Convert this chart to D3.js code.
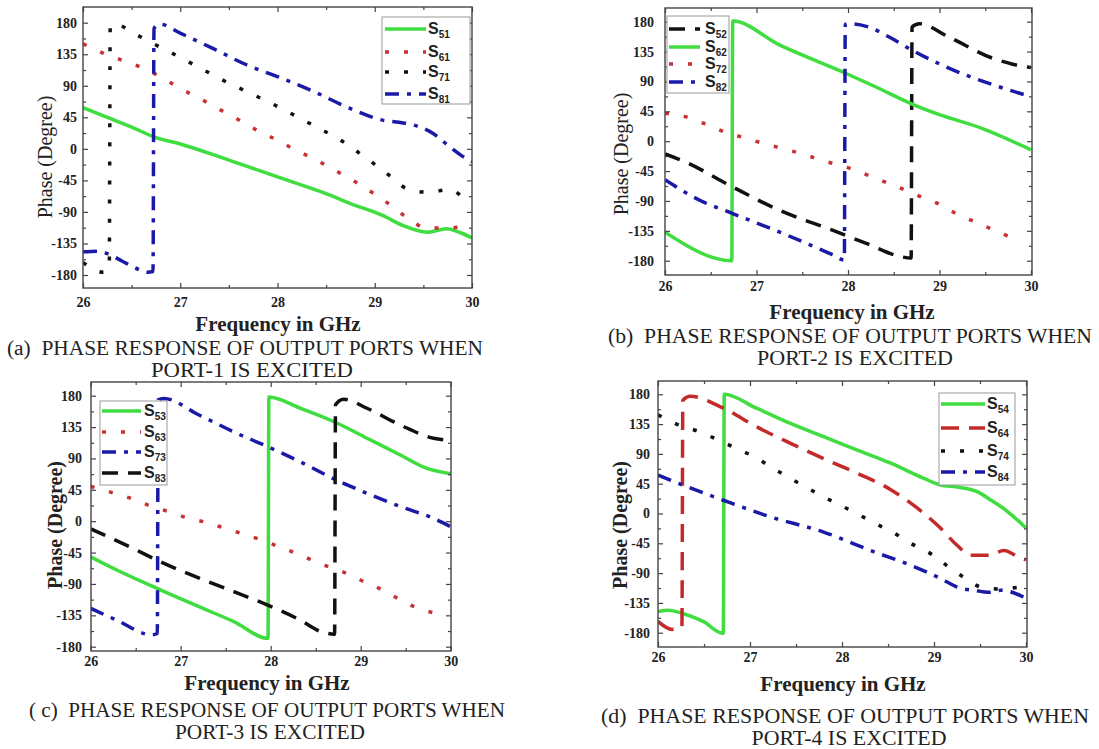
<!DOCTYPE html>
<html>
<head>
<meta charset="utf-8">
<script src="https://cdn.jsdelivr.net/npm/d3@7"></script>
<style>
body { margin: 0; background: #fff; }
svg { display: block; }
text { white-space: pre; }
</style>
</head>
<body>
<svg id="fig" width="1099" height="749"></svg>
<script>
// axis ticks shared by all panels
var freqTicks = [26, 27, 28, 29, 30];
var freqMinor = [26.5, 27.5, 28.5, 29.5];
var phaseTicks = [-180, -135, -90, -45, 0, 45, 90, 135, 180];
var phaseMinor = [-157.5, -112.5, -67.5, -22.5, 22.5, 67.5, 112.5, 157.5];

// (a) port-1 excited  [GHz, degree]
var s51 = [[26,59],[26.25,45],[26.5,31],[26.75,16],[27,7],[27.5,-16],[28,-40],[28.5,-64],[28.75,-78],[29.08,-95],[29.3,-110],[29.54,-119],[29.74,-114],[29.87,-119],[30,-127]];
var s61 = [[26,150],[26.2,137],[26.43,125],[26.62,115],[26.82,101],[27,86],[27.2,72],[27.38,58],[27.57,44],[27.77,28],[27.96,15],[28.15,1],[28.34,-12],[28.52,-25],[28.71,-40],[28.8,-47],[28.97,-62],[29.15,-79],[29.32,-97],[29.54,-113],[29.74,-113],[29.95,-111],[30,-112]];
var s71 = [[26,-162],[26.21,-176],[26.27,-170],[26.28,176],[26.33,178],[26.52,165],[26.71,151],[26.91,137],[27.1,123],[27.29,109],[27.48,95],[27.68,82],[27.86,70],[28.05,57],[28.24,43],[28.43,29],[28.62,15],[28.8,-2],[28.97,-19],[29.15,-38],[29.32,-56],[29.55,-62],[29.77,-58],[29.95,-73],[30,-76]];
var s81 = [[26,-147],[26.15,-146],[26.26,-150],[26.4,-160],[26.59,-173],[26.66,-176],[26.72,-175],[26.73,172],[26.79,178],[27,165],[27.34,143],[27.68,120],[28.02,102],[28.37,82],[28.74,58],[29.08,41],[29.25,38],[29.4,34],[29.6,22],[29.77,3],[29.93,-13],[30,-18]];

// (b) port-2 excited
var s52 = [[26,-19],[26.25,-33],[26.74,-69],[27.25,-104],[27.83,-134],[28.2,-154],[28.58,-174],[28.69,-176],[28.7,172],[28.78,177],[29.1,157],[29.58,125],[29.8,116],[30,111]];
var s62 = [[26,-137],[26.73,-180],[26.74,181],[27.25,145],[27.98,102],[28.3,82],[28.7,56],[29,40],[29.47,19],[30,-13]];
var s72 = [[26,42],[26.22,37],[26.44,26],[26.65,14],[26.87,5],[27.09,-4],[27.31,-12],[27.52,-20],[27.74,-30],[27.96,-38],[28.16,-48],[28.38,-60],[28.58,-71],[28.8,-84],[29,-95],[29.18,-109],[29.38,-121],[29.6,-134],[29.79,-145],[29.85,-147]];
var s82 = [[26,-58],[26.38,-89],[26.74,-109],[27.29,-139],[27.83,-171],[27.96,-179],[27.97,176],[28,177],[28.2,173],[28.45,157],[28.7,137],[29.28,100],[29.65,82],[30,67]];

// (c) port-3 excited
var s53 = [[26,-51],[26.29,-70],[26.73,-96],[27.21,-123],[27.59,-144],[27.97,-168],[27.98,178],[28.33,162],[28.7,143],[29.07,119],[29.44,95],[29.73,76],[30,68]];
var s63 = [[26,50],[26.21,42],[26.44,33],[26.66,22],[26.86,14],[27.07,5],[27.29,-2],[27.49,-10],[27.71,-19],[27.92,-28],[28.14,-39],[28.34,-49],[28.55,-61],[28.79,-72],[28.99,-84],[29.2,-96],[29.4,-110],[29.6,-123],[29.83,-132]];
var s73 = [[26,-125],[26.29,-142],[26.68,-163],[26.74,-161],[26.75,174],[26.81,176],[27.21,152],[27.59,128],[28,105],[28.33,85],[28.73,59],[29.07,40],[29.44,21],[29.81,4],[30,-8]];
var s83 = [[26,-11],[26.47,-39],[26.77,-58],[27.21,-82],[27.59,-101],[27.96,-120],[28.33,-142],[28.55,-158],[28.71,-162],[28.72,167],[28.81,175],[29.07,162],[29.44,138],[29.81,119],[30,116]];

// (d) port-4 excited
var s54 = [[26,-148],[26.11,-146],[26.27,-151],[26.49,-163],[26.71,-181],[26.72,180],[27.07,159],[27.44,136],[27.8,116],[28.16,96],[28.53,76],[28.89,53],[29.07,43],[29.25,40],[29.47,33],[29.62,20],[29.8,3],[30,-22]];
var s64 = [[26,-163],[26.15,-175],[26.26,-172],[26.27,171],[26.35,177],[26.71,159],[27.07,131],[27.44,106],[27.8,83],[28.16,61],[28.53,36],[28.82,8],[29.07,-22],[29.25,-48],[29.4,-63],[29.59,-63],[29.76,-56],[29.92,-66],[30,-70]];
var s74 = [[26,149],[26.22,134],[26.44,124],[26.64,112],[26.84,99],[27.04,86],[27.22,71],[27.4,56],[27.58,42],[27.76,28],[27.96,14],[28.16,0],[28.36,-15],[28.55,-28],[28.72,-43],[28.99,-63],[29.16,-81],[29.32,-96],[29.51,-111],[29.73,-114],[29.97,-111],[30,-112]];
var s84 = [[26,58],[26.27,43],[26.71,20],[27.22,-5],[27.8,-28],[28.35,-58],[28.69,-75],[28.93,-89],[29.07,-98],[29.29,-113],[29.44,-116],[29.59,-119],[29.73,-116],[30,-128]];

// line styles
var green = { color: "#3fdd3f", dash: null };
var redDot = { color: "#c83232", dash: "4,15" };
var blackDot = { color: "#111", dash: "4,15" };
var blueDashDot = { color: "#1a1aa6", dash: "14,8,4,8" };
var blackDash = { color: "#111", dash: "16,10" };
var redDash = { color: "#c42a2a", dash: "18,10" };

var serif = "Liberation Serif";
var sans = "Liberation Sans";

var panels = [
  { frame: [83, 7, 472, 288], xr: [83, 472], yr: [275, 22.7], xPad: 9, yPad: 6,
    yTitle: { x: 52, y: 157, bold: false }, xTitle: { x: 278, y: 331 },
    cap: [["(a)  PHASE RESPONSE OF OUTPUT PORTS WHEN", 245, 355, 476], ["PORT-1 IS EXCITED", 252, 377, 202]],
    legend: { box: [382, 17, 470, 104], rows: [29, 52, 72, 94], lx: [385, 426], tx: 428 },
    series: [["51", s51, green], ["61", s61, redDot], ["71", s71, blackDot], ["81", s81, blueDashDot]] },
  { frame: [665, 8, 1032, 275], xr: [665, 1031], yr: [260.7, 21.7], xPad: 6, yPad: 11,
    yTitle: { x: 628, y: 154, bold: false }, xTitle: { x: 852, y: 319 },
    cap: [["(b)  PHASE RESPONSE OF OUTPUT PORTS WHEN", 850, 343, 484], ["PORT-2 IS EXCITED", 855, 365, 196]],
    legend: { box: [667, 16, 729, 93], rows: [29, 47, 64, 82], lx: [669, 700], tx: 705 },
    series: [["52", s52, blackDash], ["62", s62, green], ["72", s72, redDot], ["82", s82, blueDashDot]] },
  { frame: [91, 382, 451, 651], xr: [90.7, 450.7], yr: [646.7, 395.7], xPad: 5, yPad: 9,
    yTitle: { x: 62, y: 525, bold: true }, xTitle: { x: 267, y: 690 },
    cap: [["( c)  PHASE RESPONSE OF OUTPUT PORTS WHEN", 267, 717, 476], ["PORT-3 IS EXCITED", 270, 739, 190]],
    legend: { box: [100, 401, 167, 485], rows: [411, 432, 452, 473], lx: [102, 141], tx: 144 },
    series: [["53", s53, green], ["63", s63, redDot], ["73", s73, blueDashDot], ["83", s83, blackDash]] },
  { frame: [658, 381, 1027, 647], xr: [658, 1026], yr: [632.7, 394.3], xPad: 5, yPad: 8,
    yTitle: { x: 627, y: 525, bold: true }, xTitle: { x: 843, y: 691 },
    cap: [["(d)  PHASE RESPONSE OF OUTPUT PORTS WHEN", 845, 723, 488], ["PORT-4 IS EXCITED", 849, 745, 195]],
    legend: { box: [939, 393, 1015, 485], rows: [404, 428, 451, 472], lx: [941, 985], tx: 987 },
    series: [["54", s54, green], ["64", s64, redDash], ["74", s74, blackDot], ["84", s84, blueDashDot]] }
];

var svg = d3.select("#fig");

function styleAxis(sel) {
  sel.select(".domain").remove();
  sel.selectAll("line").attr("stroke", "#444").attr("stroke-width", 1.2);
  sel.selectAll("text")
    .attr("font-family", serif)
    .attr("font-weight", "bold")
    .attr("font-size", 14)
    .attr("fill", "#222");
}

panels.forEach((p, i) => {
  var f = p.frame;
  var g = svg.append("g");
  var x = d3.scaleLinear().domain([26, 30]).range(p.xr);
  var y = d3.scaleLinear().domain([-180, 180]).range(p.yr);

  g.append("clipPath").attr("id", "clip" + i)
    .append("rect").attr("x", f[0]).attr("y", f[1]).attr("width", f[2] - f[0]).attr("height", f[3] - f[1]);

  // curves
  var line = d3.line()
    .x(d => x(d[0]))
    .y(d => y(d[1]))
    .curve(d3.curveMonotoneX);

  g.append("g").attr("clip-path", "url(#clip" + i + ")")
    .selectAll("path")
    .data(p.series)
    .enter()
    .append("path")
    .attr("d", d => line(d[1]))
    .attr("fill", "none")
    .attr("stroke", d => d[2].color)
    .attr("stroke-width", 3.5)
    .attr("stroke-dasharray", d => d[2].dash);

  // axes, ticks inward on all four sides
  g.append("g").attr("transform", `translate(${f[0]},0)`)
    .call(d3.axisLeft(y).tickValues(phaseTicks).tickSize(-5).tickPadding(p.yPad).tickFormat(d => String(d)))
    .call(styleAxis);
  g.append("g").attr("transform", `translate(${f[0]},0)`)
    .call(d3.axisLeft(y).tickValues(phaseMinor).tickSize(-3).tickFormat(""))
    .call(styleAxis);
  g.append("g").attr("transform", `translate(${f[2]},0)`)
    .call(d3.axisRight(y).tickValues(phaseTicks).tickSize(-5).tickFormat(""))
    .call(styleAxis);
  g.append("g").attr("transform", `translate(${f[2]},0)`)
    .call(d3.axisRight(y).tickValues(phaseMinor).tickSize(-3).tickFormat(""))
    .call(styleAxis);
  g.append("g").attr("transform", `translate(0,${f[3]})`)
    .call(d3.axisBottom(x).tickValues(freqTicks).tickSize(-5).tickPadding(p.xPad).tickFormat(d => String(d)))
    .call(styleAxis);
  g.append("g").attr("transform", `translate(0,${f[3]})`)
    .call(d3.axisBottom(x).tickValues(freqMinor).tickSize(-3).tickFormat(""))
    .call(styleAxis);
  g.append("g").attr("transform", `translate(0,${f[1]})`)
    .call(d3.axisTop(x).tickValues(freqTicks).tickSize(-5).tickFormat(""))
    .call(styleAxis);
  g.append("g").attr("transform", `translate(0,${f[1]})`)
    .call(d3.axisTop(x).tickValues(freqMinor).tickSize(-3).tickFormat(""))
    .call(styleAxis);

  g.append("rect")
    .attr("x", f[0]).attr("y", f[1])
    .attr("width", f[2] - f[0]).attr("height", f[3] - f[1])
    .attr("fill", "none")
    .attr("stroke", "#444")
    .attr("stroke-width", 1.4);

  // legend
  var L = p.legend;
  g.append("rect")
    .attr("x", L.box[0]).attr("y", L.box[1])
    .attr("width", L.box[2] - L.box[0]).attr("height", L.box[3] - L.box[1])
    .attr("fill", "#fff")
    .attr("stroke", "#999")
    .attr("stroke-width", 1);

  var rows = g.selectAll(".lg")
    .data(p.series)
    .enter()
    .append("g")
    .attr("transform", (d, k) => `translate(0,${L.rows[k]})`);

  rows.append("line")
    .attr("x1", L.lx[0]).attr("x2", L.lx[1])
    .attr("stroke", d => d[2].color)
    .attr("stroke-width", 3.5)
    .attr("stroke-dasharray", d => d[2].dash);

  var lt = rows.append("text")
    .attr("x", L.tx)
    .attr("y", 5)
    .attr("font-family", sans)
    .attr("font-weight", "bold")
    .attr("fill", "#222");
  lt.append("tspan").attr("font-size", 16).text("S");
  lt.append("tspan").attr("font-size", 10).attr("dy", 4).text(d => d[0]);

  // axis titles
  g.append("text")
    .attr("transform", `translate(${p.yTitle.x},${p.yTitle.y}) rotate(-90)`)
    .attr("text-anchor", "middle")
    .attr("font-family", serif)
    .attr("font-weight", p.yTitle.bold ? "bold" : "normal")
    .attr("font-size", 20)
    .attr("fill", "#222")
    .text("Phase (Degree)");

  g.append("text")
    .attr("x", p.xTitle.x)
    .attr("y", p.xTitle.y)
    .attr("text-anchor", "middle")
    .attr("font-family", serif)
    .attr("font-weight", "bold")
    .attr("font-size", 21)
    .attr("fill", "#222")
    .text("Frequency in GHz");

  // caption
  p.cap.forEach(c => {
    g.append("text")
      .attr("x", c[1])
      .attr("y", c[2])
      .attr("text-anchor", "middle")
      .attr("font-family", serif)
      .attr("font-size", 20)
      .attr("textLength", c[3])
      .attr("lengthAdjust", "spacingAndGlyphs")
      .attr("fill", "#222")
      .text(c[0]);
  });
});
</script>
</body>
</html>
